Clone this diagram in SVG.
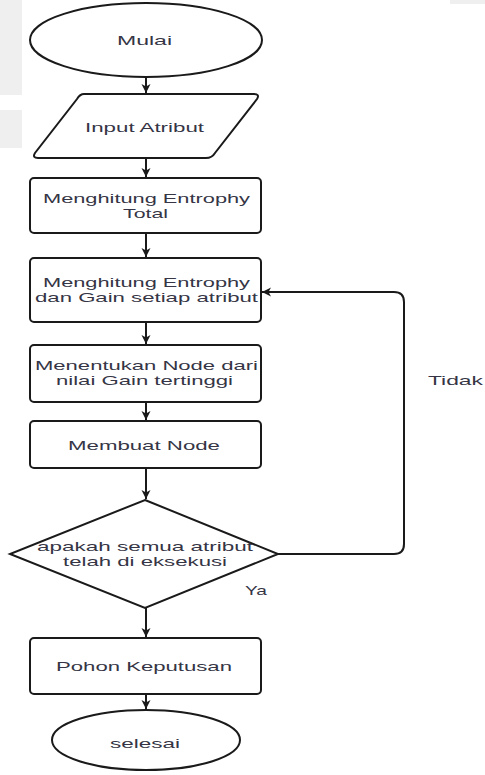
<svg xmlns="http://www.w3.org/2000/svg" width="485" height="775" viewBox="0 0 485 775">
<style>
.s{fill:#fff;stroke:#1a1a1a;stroke-width:2}
.c{fill:none;stroke:#1a1a1a;stroke-width:2}
.t{font-family:"Liberation Sans",Arial,sans-serif;font-size:13.5px;fill:#353545;text-anchor:middle}
</style>
<defs>
<marker id="ah" markerWidth="10" markerHeight="10" refX="9" refY="5" orient="auto" markerUnits="userSpaceOnUse">
<path d="M0,0.5 L9,5 L0,9.5 L2.5,5 Z" fill="#1a1a1a"/>
</marker>
</defs>
<rect width="485" height="775" fill="#fff"/>
<rect x="0" y="0" width="22" height="95" fill="#efefef"/>
<rect x="0" y="110" width="22" height="38" fill="#efefef"/>
<rect x="450" y="0" width="35" height="4" fill="#efefef"/>
<g id="connectors">
<path class="c" d="M146,77 V93" marker-end="url(#ah)"/>
<path class="c" d="M146,158 V177" marker-end="url(#ah)"/>
<path class="c" d="M146,233 V257" marker-end="url(#ah)"/>
<path class="c" d="M146,322 V344" marker-end="url(#ah)"/>
<path class="c" d="M146,402 V420" marker-end="url(#ah)"/>
<path class="c" d="M146,468 V499" marker-end="url(#ah)"/>
<path class="c" d="M146,608 V637" marker-end="url(#ah)"/>
<path class="c" d="M146,694 V709" marker-end="url(#ah)"/>
<path class="c" d="M278,554 H394 Q404,554 404,544 V302 Q404,292 394,292 H262" marker-end="url(#ah)"/>
</g>
<g id="mulai">
<ellipse class="s" cx="146" cy="40" rx="116" ry="37"/>
<text class="t" x="144.5" y="45" textLength="55" lengthAdjust="spacingAndGlyphs">Mulai</text>
</g>
<g id="input">
<path class="s" d="M84,94 H254 Q260,94 257,99 L215,153 Q212,158 206,158 H38 Q32,158 35,153 L77,99 Q80,94 84,94 Z"/>
<text class="t" x="144.5" y="132" textLength="119" lengthAdjust="spacingAndGlyphs">Input Atribut</text>
</g>
<g id="entropy-total">
<rect class="s" x="30" y="178" width="231" height="55" rx="4"/>
<text class="t" x="146.5" y="203" textLength="207" lengthAdjust="spacingAndGlyphs">Menghitung Entrophy</text>
<text class="t" x="145.5" y="218" textLength="45" lengthAdjust="spacingAndGlyphs">Total</text>
</g>
<g id="entropy-gain">
<rect class="s" x="30" y="258" width="231" height="64" rx="4"/>
<text class="t" x="146.5" y="287" textLength="207" lengthAdjust="spacingAndGlyphs">Menghitung Entrophy</text>
<text class="t" x="146.5" y="302" textLength="223" lengthAdjust="spacingAndGlyphs">dan Gain setiap atribut</text>
</g>
<g id="menentukan">
<rect class="s" x="30" y="345" width="231" height="57" rx="4"/>
<text class="t" x="146.5" y="370" textLength="223" lengthAdjust="spacingAndGlyphs">Menentukan Node dari</text>
<text class="t" x="144.5" y="385" textLength="177" lengthAdjust="spacingAndGlyphs">nilai Gain tertinggi</text>
</g>
<g id="membuat">
<rect class="s" x="30" y="421" width="231" height="47" rx="4"/>
<text class="t" x="144" y="450" textLength="152" lengthAdjust="spacingAndGlyphs">Membuat Node</text>
</g>
<g id="decision">
<path class="s" d="M145,500 L278,554 L145,608 L10,554 Z"/>
<text class="t" x="145" y="551" textLength="216" lengthAdjust="spacingAndGlyphs">apakah semua atribut</text>
<text class="t" x="145" y="566" textLength="164" lengthAdjust="spacingAndGlyphs">telah di eksekusi</text>
</g>
<g id="labels">
<text class="t" x="256" y="595" textLength="22" lengthAdjust="spacingAndGlyphs">Ya</text>
<text class="t" x="455.5" y="385" textLength="55" lengthAdjust="spacingAndGlyphs">Tidak</text>
</g>
<g id="pohon">
<rect class="s" x="30" y="638" width="231" height="56" rx="4"/>
<text class="t" x="144" y="671" textLength="176" lengthAdjust="spacingAndGlyphs">Pohon Keputusan</text>
</g>
<g id="selesai">
<ellipse class="s" cx="146" cy="740" rx="94" ry="30"/>
<text class="t" x="145" y="748" textLength="70" lengthAdjust="spacingAndGlyphs">selesai</text>
</g>
</svg>
